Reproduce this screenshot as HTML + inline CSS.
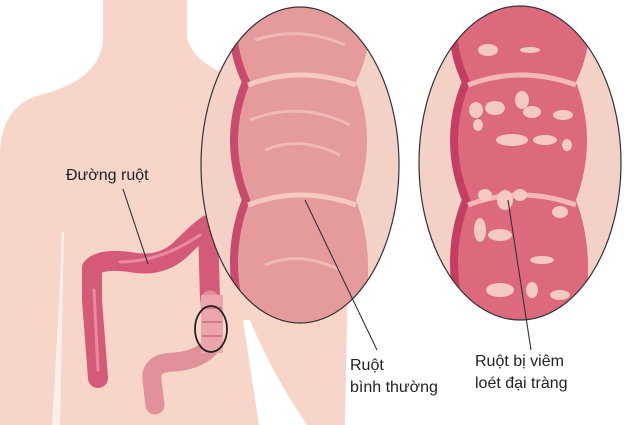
<!DOCTYPE html>
<html><head><meta charset="utf-8"><style>
html,body{margin:0;padding:0;background:#fff;width:624px;height:425px;overflow:hidden}
text{font-family:"Liberation Sans",sans-serif;fill:#222}
</style></head><body>
<svg width="624" height="425" viewBox="0 0 624 425" xmlns="http://www.w3.org/2000/svg">
<defs>
<clipPath id="c1"><ellipse cx="300" cy="165" rx="99" ry="158"/></clipPath>
<clipPath id="c2"><ellipse cx="520" cy="163" rx="101" ry="157"/></clipPath>
</defs>
<!-- body -->
<path d="M103,0 L187,0 L187,38 Q195,70 260,85 Q330,100 350,160 L345,425 L0,425 L0,150 Q3,105 40,95 Q100,80 103,40 Z" fill="#f7d5c9"/>
<path d="M62,232 Q58,330 52,425 L60,425 Q62,330 64,232 Z" fill="#fff" opacity="0.6"/>
<path d="M243,320 Q252,380 259,425 L307,425 Q270,370 250,320 Z" fill="#fff"/>
<!-- colon on body -->
<g fill="none" stroke-linecap="round" stroke-linejoin="round">
<path d="M98,378 L92,300 L92,268 Q100,258 130,262 Q160,268 180,250 Q200,230 208,225 L210,300" stroke="#d45a78" stroke-width="20"/>
<path d="M98,370 L94,290 M120,262 Q160,262 200,235" stroke="#e88aa0" stroke-width="3"/>
<path d="M210,300 L212,345 Q200,360 175,362 Q150,362 152,380 L155,405" stroke="#e2909a" stroke-width="19"/>
</g>
<rect x="201" y="295" width="22" height="58" fill="#eaa6aa"/>
<path d="M202,308 h20 M202,322 h20 M202,336 h20" stroke="#d27a86" stroke-width="2"/>
<ellipse cx="211" cy="329" rx="16" ry="23" fill="none" stroke="#222" stroke-width="1.8"/>
<!-- ellipse 1 -->
<g clip-path="url(#c1)">
<rect x="200" y="0" width="202" height="330" fill="#f4d1c6"/>
<path d="M238,0 Q226,40 246,82 Q222,140 246,200 Q222,260 246,330 L360,330 Q378,260 356,200 Q378,140 356,82 Q376,40 366,0 Z" fill="#e59a9c"/>
<path d="M238,0 Q226,40 246,82 Q222,140 246,200 Q222,260 246,330" fill="none" stroke="#c84a6c" stroke-width="8"/>
<path d="M248,85 Q300,65 356,85 M248,205 Q300,185 356,205" fill="none" stroke="#f5c8c0" stroke-width="5"/>
<path d="M255,40 Q300,25 345,45 M265,150 Q300,135 340,155 M265,265 Q300,250 340,270 M250,120 Q300,100 350,125" fill="none" stroke="#f2c0bc" stroke-width="3" opacity="0.8"/>
</g>
<ellipse cx="300" cy="165" rx="99" ry="158" fill="none" stroke="#333" stroke-width="1.2"/>
<!-- ellipse 2 -->
<g clip-path="url(#c2)">
<rect x="418" y="0" width="204" height="330" fill="#f4d1c6"/>
<path d="M458,0 Q446,40 466,82 Q442,140 466,200 Q442,260 466,330 L580,330 Q598,260 576,200 Q598,140 576,82 Q596,40 586,0 Z" fill="#dc6a7c"/>
<path d="M458,0 Q446,40 466,82 Q442,140 466,200 Q442,260 466,330" fill="none" stroke="#c43e62" stroke-width="8"/>
<path d="M468,85 Q520,65 576,85 M468,205 Q520,185 576,205" fill="none" stroke="#f2b8b6" stroke-width="5"/>
<g fill="#f3c9c2">
<ellipse cx="488" cy="50" rx="10" ry="6"/><ellipse cx="530" cy="50" rx="10" ry="3"/>
<ellipse cx="476" cy="110" rx="7" ry="8"/><ellipse cx="495" cy="108" rx="10" ry="7"/><ellipse cx="522" cy="100" rx="7" ry="9"/>
<ellipse cx="532" cy="112" rx="9" ry="6"/><ellipse cx="563" cy="115" rx="10" ry="5"/><ellipse cx="478" cy="125" rx="5" ry="6"/>
<ellipse cx="512" cy="140" rx="16" ry="6"/><ellipse cx="545" cy="140" rx="12" ry="5"/><ellipse cx="567" cy="145" rx="5" ry="6"/>
<ellipse cx="485" cy="195" rx="7" ry="6"/><ellipse cx="505" cy="200" rx="8" ry="10"/><ellipse cx="520" cy="195" rx="7" ry="6"/><ellipse cx="560" cy="212" rx="8" ry="6"/>
<ellipse cx="480" cy="230" rx="6" ry="12"/><ellipse cx="500" cy="235" rx="12" ry="6"/><ellipse cx="542" cy="260" rx="12" ry="4"/>
<ellipse cx="500" cy="290" rx="14" ry="7"/><ellipse cx="532" cy="290" rx="6" ry="8"/><ellipse cx="560" cy="295" rx="10" ry="5"/>
</g>
</g>
<ellipse cx="520" cy="163" rx="101" ry="157" fill="none" stroke="#333" stroke-width="1.2"/>
<!-- leaders -->
<g stroke="#333" stroke-width="1.1">
<line x1="123" y1="189" x2="148" y2="264"/>
<line x1="305" y1="200" x2="377" y2="350"/>
<line x1="508" y1="200" x2="531" y2="350"/>
</g>
<text x="66" y="180" font-size="16">Đường ruột</text>
<text x="350" y="370" font-size="16">Ruột</text>
<text x="350" y="392" font-size="16">bình thường</text>
<text x="475" y="366" font-size="16">Ruột bị viêm</text>
<text x="475" y="388" font-size="16">loét đại tràng</text>
</svg>
</body></html>
